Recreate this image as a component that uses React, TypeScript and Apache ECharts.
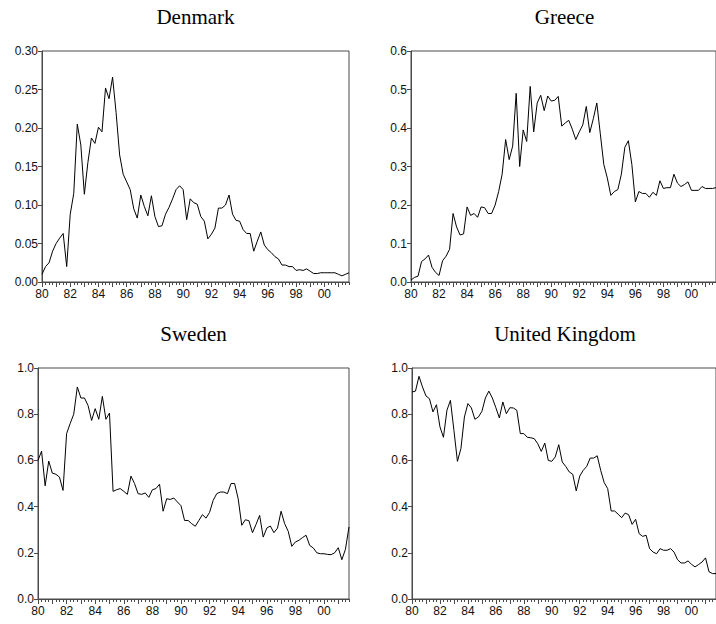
import React, { useEffect, useRef } from "react";
import * as echarts from "echarts";

const years = [1980, 1981, 1982, 1983, 1984, 1985, 1986, 1987, 1988, 1989, 1990, 1991, 1992, 1993, 1994, 1995, 1996, 1997, 1998, 1999, 2000, 2001];
const quarterNames = ["Q1", "Q2", "Q3", "Q4"];

const denmark = [
  0.010, 0.020, 0.025, 0.040, 0.050, 0.057, 0.063, 0.020,
  0.088, 0.115, 0.205, 0.178, 0.114, 0.155, 0.187, 0.180,
  0.201, 0.195, 0.252, 0.238, 0.266, 0.220, 0.165, 0.140,
  0.130, 0.120, 0.095, 0.083, 0.113, 0.098, 0.086, 0.112,
  0.085, 0.072, 0.073, 0.088, 0.097, 0.108, 0.120, 0.125,
  0.120, 0.081, 0.108, 0.103, 0.101, 0.085, 0.079, 0.056,
  0.062, 0.070, 0.096, 0.096, 0.100, 0.113, 0.088, 0.080,
  0.079, 0.068, 0.063, 0.063, 0.040, 0.053, 0.065, 0.048,
  0.042, 0.038, 0.033, 0.030, 0.022, 0.022, 0.020, 0.020,
  0.015, 0.016, 0.015, 0.017, 0.014, 0.011, 0.011, 0.012,
  0.012, 0.012, 0.012, 0.012, 0.010, 0.008, 0.010, 0.012,
];

const greece = [
  0.005, 0.012, 0.015, 0.053, 0.060, 0.070, 0.038, 0.025,
  0.017, 0.055, 0.067, 0.085, 0.178, 0.143, 0.122, 0.125,
  0.195, 0.173, 0.178, 0.168, 0.195, 0.193, 0.178, 0.178,
  0.200, 0.235, 0.280, 0.370, 0.318, 0.353, 0.490, 0.300,
  0.395, 0.365, 0.508, 0.390, 0.465, 0.485, 0.445, 0.483,
  0.470, 0.472, 0.482, 0.405, 0.413, 0.420, 0.397, 0.370,
  0.390, 0.408, 0.456, 0.388, 0.424, 0.465, 0.385, 0.305,
  0.270, 0.225, 0.235, 0.240, 0.280, 0.350, 0.367, 0.305,
  0.208, 0.235, 0.230, 0.230, 0.220, 0.233, 0.225, 0.263,
  0.243, 0.245, 0.245, 0.280, 0.257, 0.248, 0.253, 0.260,
  0.238, 0.238, 0.238, 0.248, 0.243, 0.243, 0.243, 0.245,
];

const sweden = [
  0.600, 0.640, 0.490, 0.597, 0.545, 0.540, 0.528, 0.470,
  0.716, 0.760, 0.800, 0.918, 0.870, 0.870, 0.838, 0.773,
  0.824, 0.778, 0.877, 0.778, 0.805, 0.466, 0.473, 0.478,
  0.466, 0.453, 0.532, 0.500, 0.456, 0.453, 0.459, 0.440,
  0.473, 0.478, 0.497, 0.380, 0.434, 0.431, 0.437, 0.420,
  0.404, 0.340, 0.340, 0.326, 0.315, 0.340, 0.365, 0.350,
  0.375, 0.427, 0.456, 0.463, 0.463, 0.456, 0.500, 0.500,
  0.434, 0.319, 0.343, 0.339, 0.287, 0.323, 0.362, 0.268,
  0.307, 0.316, 0.287, 0.307, 0.380, 0.326, 0.293, 0.228,
  0.247, 0.254, 0.266, 0.276, 0.232, 0.221, 0.200, 0.196,
  0.196, 0.193, 0.192, 0.200, 0.222, 0.170, 0.215, 0.312,
];

const unitedKingdom = [
  0.896, 0.900, 0.964, 0.918, 0.879, 0.867, 0.810, 0.841,
  0.745, 0.700, 0.817, 0.860, 0.730, 0.596, 0.651, 0.788,
  0.846, 0.827, 0.778, 0.788, 0.812, 0.870, 0.900, 0.870,
  0.828, 0.784, 0.853, 0.802, 0.828, 0.827, 0.817, 0.716,
  0.716, 0.700, 0.698, 0.694, 0.672, 0.639, 0.675, 0.600,
  0.596, 0.615, 0.668, 0.593, 0.574, 0.550, 0.540, 0.468,
  0.532, 0.557, 0.574, 0.610, 0.610, 0.620, 0.557, 0.504,
  0.478, 0.381, 0.381, 0.367, 0.352, 0.372, 0.365, 0.323,
  0.345, 0.283, 0.271, 0.276, 0.218, 0.203, 0.196, 0.218,
  0.211, 0.211, 0.218, 0.203, 0.170, 0.156, 0.156, 0.165,
  0.150, 0.139, 0.149, 0.160, 0.178, 0.118, 0.110, 0.110,
];

const panelTitles = ["Denmark", "Greece", "Sweden", "United Kingdom"];
const yMax = [0.3, 0.6, 1.0, 1.0];
const yStep = [0.05, 0.1, 0.2, 0.2];
const yDecimals = [2, 1, 1, 1];

export default function App() {
  const ref = useRef<HTMLDivElement>(null);

  useEffect(() => {
    if (!ref.current) return;
    const chart = echarts.init(ref.current, undefined, { renderer: "svg" });

    const categories: string[] = [];
    years.forEach((y) => quarterNames.forEach((q) => categories.push(`${y}${q}`)));

    const seriesData = [denmark, greece, sweden, unitedKingdom];
    const grids = [
      { left: 42, top: 51, width: 307, height: 231 },
      { left: 411, top: 51, width: 307, height: 231 },
      { left: 38, top: 368, width: 311, height: 231 },
      { left: 412, top: 368, width: 306, height: 231 },
    ];
    const frame = "#4a4a4a";
    const labelFont = { color: "#111", fontFamily: "Liberation Sans, Arial, sans-serif", fontSize: 12 };

    const xAxes: any[] = [];
    const yAxes: any[] = [];
    const series: any[] = [];
    const graphics: any[] = [];

    grids.forEach((g, i) => {
      xAxes.push({
        type: "category",
        gridIndex: i,
        data: categories,
        boundaryGap: false,
        position: "bottom",
        axisLine: { show: true, lineStyle: { color: frame, width: 1 } },
        axisTick: { show: true, interval: 0, length: 3, inside: false, lineStyle: { color: frame } },
        axisLabel: {
          interval: 7,
          margin: 6,
          formatter: (v: string) => v.slice(2, 4),
          ...labelFont,
        },
        splitLine: { show: false },
      });
      xAxes.push({
        type: "category",
        gridIndex: i,
        data: categories,
        boundaryGap: false,
        position: "bottom",
        axisLine: { show: false },
        axisTick: { show: true, interval: 3, length: 5, lineStyle: { color: frame } },
        axisLabel: { show: false },
        splitLine: { show: false },
      });
      yAxes.push({
        type: "value",
        gridIndex: i,
        min: 0,
        max: yMax[i],
        interval: yStep[i],
        axisLine: { show: true, lineStyle: { color: frame, width: 1 } },
        axisTick: { show: true, length: 4, lineStyle: { color: frame } },
        axisLabel: {
          margin: 4,
          formatter: (v: number) => v.toFixed(yDecimals[i]),
          ...labelFont,
        },
        splitLine: { show: false },
      });
      series.push({
        type: "line",
        xAxisIndex: i * 2,
        yAxisIndex: i,
        data: seriesData[i],
        symbol: "none",
        lineStyle: { color: "#000", width: 1 },
        clip: true,
      });
      const topY = i < 2 ? 17 : 334;
      graphics.push({
        type: "text",
        x: g.left + g.width / 2,
        y: topY,
        style: {
          text: panelTitles[i],
          font: "21px 'Liberation Serif', 'Times New Roman', serif",
          fill: "#000",
          align: "center",
          verticalAlign: "middle",
          textAlign: "center",
          textVerticalAlign: "middle",
        },
      });
    });

    chart.setOption({
      animation: false,
      backgroundColor: "#fff",
      grid: grids.map((g) => ({ ...g, show: true, borderColor: frame, borderWidth: 1, backgroundColor: "transparent" })),
      xAxis: xAxes,
      yAxis: yAxes,
      series,
      graphic: graphics,
    });

    return () => chart.dispose();
  }, []);

  return (
    <div
      ref={ref}
      style={{ position: "absolute", left: 0, top: 0, width: 716, height: 624, background: "#fff" }}
    />
  );
}
